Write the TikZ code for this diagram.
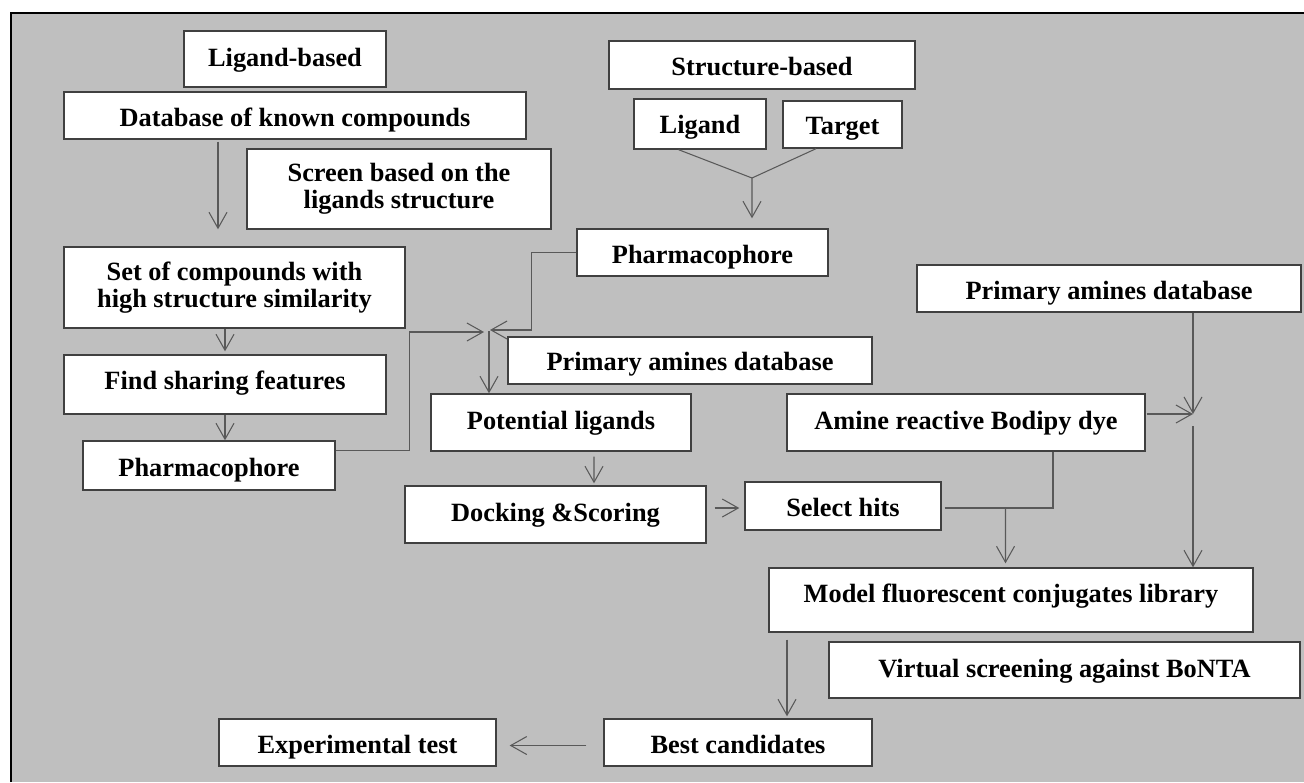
\documentclass[tikz,border=0pt]{standalone}
\usepackage{fontspec}
\setmainfont{Liberation Serif}
\usepackage{tikz}
\usetikzlibrary{arrows.meta}

\begin{document}
\begin{tikzpicture}[x=0.02cm, y=-0.02cm,
  caixa/.style={draw=black!75, line width=0.8pt, fill=white, inner sep=0pt,
    font=\fontsize{15pt}{15.5pt}\selectfont\bfseries},
  uma/.style={caixa, text height=#1, text depth=0pt},
  uma/.default=12.5pt,
  duas/.style={caixa, align=center},
  linha/.style={draw=black!65, line width=0.6pt},
  seta/.style={linha, -{Straight Barb[length=0.32cm, width=0.36cm]}}]
  \useasboundingbox (0,0) rectangle (1304,782);

  % Fundo e moldura
  \fill[white] (0,0) rectangle (1304,782);
  \fill[black!25] (11,12.5) rectangle (1304,782);
  \draw[line width=0.04cm] (11,782) -- (11,12.5) -- (1304,12.5);

  % Ramo ligand-based
  \node[uma=8.7pt, minimum width=4.04cm, minimum height=1.12cm] (lbased) at (285,59) {Ligand-based};
  \node[uma, minimum width=9.24cm, minimum height=0.94cm] (dbknown) at (295,115.5) {Database of known compounds};
  \node[duas, minimum width=6.08cm, minimum height=1.6cm] (screen) at (399,189) {Screen based on the\\ligands structure};
  \node[duas, minimum width=6.82cm, minimum height=1.62cm] (setcomp) at (234.5,287.5) {Set of compounds with\\high structure similarity};
  \node[uma=6.2pt, minimum width=6.44cm, minimum height=1.18cm] (findfeat) at (225,384.5) {Find sharing features};
  \node[uma, minimum width=5.04cm, minimum height=0.98cm] (pharmL) at (209,465.5) {Pharmacophore};

  % Ramo structure-based
  \node[uma, minimum width=6.12cm, minimum height=0.96cm] (sbased) at (762,65) {Structure-based};
  \node[uma=11pt, minimum width=2.64cm, minimum height=1.0cm] (ligand) at (700,124) {Ligand};
  \node[uma=11.5pt, minimum width=2.38cm, minimum height=0.94cm] (target) at (842.5,124.5) {Target};
  \node[uma, minimum width=5.02cm, minimum height=0.94cm] (pharmR) at (702.5,252.5) {Pharmacophore\hspace{0.4cm}};
  \node[uma=11pt, minimum width=7.28cm, minimum height=0.94cm] (aminesM) at (690,360.5) {Primary amines database};
  \node[uma=8pt, minimum width=5.2cm, minimum height=1.14cm] (potlig) at (561,422.5) {Potential ligands};
  \node[uma=8pt, minimum width=6.02cm, minimum height=1.14cm] (dock) at (555.5,514.5) {Docking \&Scoring};
  \node[uma=12pt, minimum width=3.92cm, minimum height=0.96cm] (hits) at (843,506) {Select hits};

  % Ramo das aminas
  \node[uma, minimum width=7.68cm, minimum height=0.94cm] (aminesR) at (1109,288.5) {Primary amines database};
  \node[uma=8pt, minimum width=7.16cm, minimum height=1.14cm] (bodipy) at (966,422.5) {Amine reactive Bodipy dye};
  \node[uma=3pt, minimum width=9.68cm, minimum height=1.28cm] (model) at (1011,600) {Model fluorescent conjugates library};
  \node[uma=8pt, minimum width=9.42cm, minimum height=1.12cm] (virtual) at (1064.5,670) {Virtual screening against BoNTA};
  \node[uma, minimum width=5.36cm, minimum height=0.94cm] (best) at (738,742.5) {Best candidates};
  \node[uma, minimum width=5.54cm, minimum height=0.94cm] (exper) at (357.5,742.5) {Experimental test};

  % Pontos de juncao
  \coordinate (juncao) at (489,331);
  \coordinate (vjunta) at (752,178);
  \coordinate (juntahits) at (1005.5,508);
  \coordinate (juntacor) at (1193,414);

  % Setas ligand-based
  \draw[seta] ([shift={(-77,2)}]dbknown.south) -- ([shift={(-16.5,-17)}]setcomp.north);
  \draw[seta] (setcomp.south -| findfeat.north) -- ([shift={(0,-3)}]findfeat.north);
  \draw[seta] (findfeat.south) -- (findfeat.south |- pharmL.north);
  \draw[seta] ([shift={(0,10)}]pharmL.north east) -- ++(74,0) |- ([shift={(-5,1)}]juncao);

  % Setas structure-based
  \draw[linha] ([shift={(-21.4,0)}]ligand.south) -- (vjunta);
  \draw[linha] ([shift={(-26.5,0)}]target.south) -- (vjunta);
  \draw[seta] (vjunta) -- ([shift={(49.5,-10)}]pharmR.north);
  \draw[seta] (pharmR.west) -- ++(-45,0) |- ([shift={(1,-1)}]juncao);
  \draw[seta] (juncao) -- (juncao |- potlig.north);
  \draw[seta] ([shift={(33,5)}]potlig.south) -- ([shift={(38.5,-2)}]dock.north);
  \draw[seta] ([shift={(8,-6.5)}]dock.east) -- ([shift={(-5,2)}]hits.west);

  % Setas das aminas
  \draw[linha] ([shift={(3,2)}]hits.east) -- (juntahits);
  \draw[linha] ([shift={(87,0)}]bodipy.south) |- (juntahits);
  \draw[seta] (juntahits) -- ([shift={(-5.5,-4)}]model.north);
  \draw[seta] (aminesR.south -| juntacor) -- (juntacor);
  \draw[seta] ([shift={(1,-8.5)}]bodipy.east) -- (juntacor);
  \draw[seta] ([shift={(0,12)}]juntacor) -- (juntacor |- model.north);
  \draw[seta] ([shift={(-224,7)}]model.south) -- ([shift={(49,-2)}]best.north);
  \draw[seta] ([shift={(-17,3)}]best.west) -- ([shift={(13,3)}]exper.east);
\end{tikzpicture}
\end{document}
